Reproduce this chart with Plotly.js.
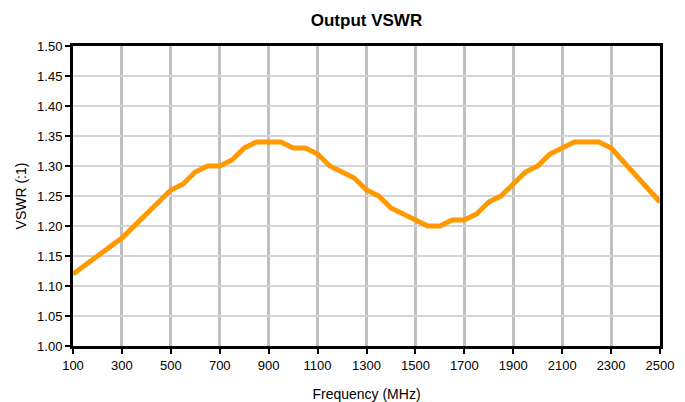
<!DOCTYPE html>
<html>
<head>
<meta charset="utf-8">
<script src="https://cdn.plot.ly/plotly-3.0.1.min.js"></script>
<style>html,body{margin:0;padding:0;background:#fff;}#chart{width:685px;height:402px;}</style>
</head>
<body>
<div id="chart"></div>
<script>
var freqMHz = [100, 300, 500, 550, 600, 650, 700, 750, 800, 850, 900, 950, 1000, 1050, 1100, 1150, 1200, 1250, 1300, 1350, 1400, 1450, 1500, 1550, 1600, 1650, 1700, 1750, 1800, 1850, 1900, 1950, 2000, 2050, 2100, 2150, 2200, 2250, 2300, 2500];
var vswr = [1.12, 1.18, 1.26, 1.27, 1.29, 1.30, 1.30, 1.31, 1.33, 1.34, 1.34, 1.34, 1.33, 1.33, 1.32, 1.30, 1.29, 1.28, 1.26, 1.25, 1.23, 1.22, 1.21, 1.20, 1.20, 1.21, 1.21, 1.22, 1.24, 1.25, 1.27, 1.29, 1.30, 1.32, 1.33, 1.34, 1.34, 1.34, 1.33, 1.24];
var xTicks = [100, 300, 500, 700, 900, 1100, 1300, 1500, 1700, 1900, 2100, 2300, 2500];
var yTicks = [1.00, 1.05, 1.10, 1.15, 1.20, 1.25, 1.30, 1.35, 1.40, 1.45, 1.50];

var font = "Liberation Sans, Arial, sans-serif";
var trace = {
  x: freqMHz, y: vswr, type: 'scatter', mode: 'lines',
  line: {color: '#FF9900', width: 5},
  hoverinfo: 'skip'
};
var layout = {
  width: 685, height: 402,
  margin: {l: 73, r: 25, t: 46, b: 56},
  paper_bgcolor: '#fff', plot_bgcolor: '#fff',
  showlegend: false,
  font: {family: font, size: 13, color: '#000'},
  title: {text: '<b>Output VSWR</b>', font: {family: font, size: 17, color: '#000'}, x: 0.535, xanchor: 'center', y: 0.95, yanchor: 'middle'},
  xaxis: {
    range: [100, 2500], tickmode: 'array', tickvals: xTicks,
    ticktext: xTicks.map(String),
    showgrid: true, gridcolor: '#c0c0c0', gridwidth: 3,
    showline: true, linecolor: '#000', linewidth: 3, mirror: true,
    ticks: 'outside', ticklen: 5, tickwidth: 2, tickcolor: '#000',
    tickfont: {family: font, size: 13, color: '#000'},
    zeroline: false,
    title: {text: 'Frequency (MHz)', font: {family: font, size: 14, color: '#000'}, standoff: 18}
  },
  yaxis: {
    range: [1.0, 1.5], tickmode: 'array', tickvals: yTicks,
    ticktext: yTicks.map(function(v){return v.toFixed(2);}),
    showgrid: true, gridcolor: '#d4d4d4', gridwidth: 2,
    showline: true, linecolor: '#000', linewidth: 3, mirror: true,
    ticks: 'outside', ticklen: 5, tickwidth: 2, tickcolor: '#000',
    tickfont: {family: font, size: 13, color: '#000'},
    zeroline: false,
    title: {text: 'VSWR (:1)', font: {family: font, size: 14, color: '#000'}, standoff: 8}
  }
};
Plotly.newPlot('chart', [trace], layout, {staticPlot: true, displayModeBar: false});
</script>
</body>
</html>
